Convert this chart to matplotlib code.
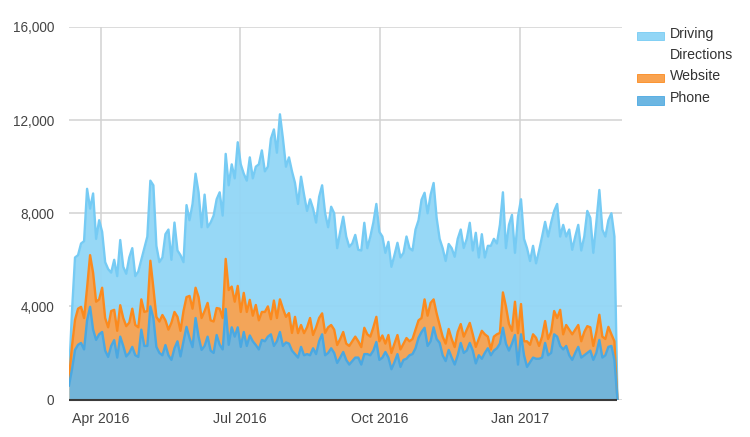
import matplotlib
matplotlib.use("Agg")
import matplotlib.pyplot as plt
import matplotlib.dates as mdates
from matplotlib.patches import Rectangle
import pandas as pd

plt.rcParams["font.family"] = ["Liberation Sans", "DejaVu Sans"]

# about one reading every second day
driving = [
    1000, 3800, 6100, 6200, 6700, 6800, 9050, 8200, 8850, 6900,
    7700, 7200, 5900, 5600, 5450, 6000, 5300, 6850, 5700, 5400,
    6100, 6500, 5300, 5500, 6000, 6500, 7000, 9400, 9200, 6600,
    5900, 6100, 7100, 7300, 6000, 7600, 6400, 6200, 5900, 8350,
    7700, 8400, 9700, 8900, 7400, 8800, 7400, 7600, 7900, 8600,
    8900, 7900, 10550, 9200, 10100, 9500, 11050, 10100, 9700, 9400,
    10400, 9500, 10000, 10100, 10700, 9800, 10000, 11200, 11600, 10600,
    12250, 11200, 10000, 10400, 9800, 9300, 8400, 9570, 8800, 8100,
    8600, 8200, 7600, 8700, 9200, 8000, 7400, 8280, 8000, 6500,
    7200, 7850, 7000, 6560, 6700, 7070, 6430, 6400, 7590, 6500,
    7000, 7600, 8400, 7200, 7000, 6300, 6770, 5700, 6200, 6730,
    6100, 6300, 7000, 6500, 6400, 7300, 7700, 8580, 8880, 8000,
    8790, 9300, 7800, 6900, 6500, 5950, 6680, 6500, 6130, 6900,
    7300, 6510, 6900, 7590, 6400, 7160, 6100, 7100, 6100, 6600,
    6600, 6900, 6700, 7500, 8900, 6500, 7500, 7930, 6300, 7850,
    8600, 6900, 6500, 5950, 6600, 5850, 6400, 7000, 7630, 7000,
    7600, 8100, 8400, 7000, 7500, 7000, 7300, 6430, 7000, 7500,
    6400, 7000, 8100, 7800, 6300, 7600, 9000, 7300, 7000, 7700,
    8000, 7000, 0]

website = [
    900, 2300, 3420, 3900, 3980, 3500, 4800, 6200, 5440, 4200,
    4300, 4800, 3500, 3100, 3800, 3850, 2950, 4050, 3500, 3150,
    3300, 3900, 3200, 3100, 4300, 3760, 3800, 5960, 4800, 3550,
    3350, 3630, 3400, 3000, 3300, 3760, 3550, 2950, 3800, 4400,
    4450, 3900, 4800, 4400, 3500, 3800, 4150, 3400, 3350, 3930,
    3900, 3500, 6040, 4700, 4850, 4200, 4880, 3760, 4580, 3760,
    4280, 3600, 4060, 3400, 3760, 3760, 4000, 3450, 4250, 3500,
    4300, 3900, 3550, 3710, 2860, 3550, 2850, 3200, 2850, 3100,
    3500, 2770, 3100, 3500, 3700, 2860, 3100, 3200, 3000, 2340,
    2600, 2900, 2400, 2300, 2500, 2700, 2500, 2250, 3080, 2800,
    2700, 3100, 3550, 2500, 2750, 2400, 2770, 2000, 2400, 2770,
    2150, 2400, 2640, 2500, 2600, 3000, 3400, 3500, 4300, 3600,
    4150, 4300, 3700, 3200, 2700, 2400, 3030, 2600, 2250, 2900,
    3240, 2700, 3000, 3290, 2800, 2260, 2600, 2950, 2800, 2700,
    2150, 2700, 2800, 2860, 4600, 4000, 3250, 2950, 4200, 2850,
    4100, 2500, 2500, 2350, 2800, 2650, 2300, 2700, 3370, 2600,
    2900, 3800, 3500, 3850, 2800, 3200, 3000, 2800, 3000, 3200,
    2500, 2900, 3150, 3100, 2300, 2900, 3640, 2700, 2600, 3120,
    2800, 2500, 0]

phone = [
    600, 1300, 2130, 2350, 2430, 2150, 3400, 3980, 3000, 2560,
    2800, 2900, 2100, 1830, 2300, 2550, 1800, 2700, 2300, 1850,
    2000, 2260, 1900, 1830, 3000, 2300, 2300, 4000, 3500, 2260,
    2000, 1900, 2340, 1900, 1700, 2200, 2500, 1850, 2500, 3120,
    2640, 2250, 3500, 2700, 2130, 2300, 2700, 2100, 2000, 2770,
    2350, 2150, 3890, 2350, 3100, 2700, 3100, 2260, 2900, 2300,
    2750, 2500, 2340, 2150, 2560, 2500, 2700, 2800, 2300, 2500,
    2900, 2300, 2450, 2400, 2100, 1950, 1800, 2260, 1900, 1950,
    1900, 2200, 1950, 2500, 2800, 1900, 2000, 2200, 2000, 1570,
    1800, 2040, 1700, 1500, 1650, 1800, 1800, 1500, 1950, 1950,
    1900, 2100, 2470, 1700, 1800, 2040, 1800, 1300, 1600, 1950,
    1400, 1700, 1750, 1900, 1950, 2200, 2650, 2900, 3080, 2300,
    2500, 3100, 2600, 2430, 1900, 1650, 2130, 1800, 1500, 1900,
    2430, 2000, 2100, 2430, 2100, 1550, 1900, 1750, 2000, 2200,
    1900, 2100, 2200, 2400, 3080, 2400, 2100, 2400, 2770, 1500,
    2800, 1900, 1400, 1600, 1800, 1750, 1750, 1800, 2430, 1900,
    2000, 2800, 2700, 2300, 2150, 2300, 1900, 1700, 2000, 2260,
    1800, 1900, 2000, 2100, 1700, 2000, 2560, 1800, 1900, 2260,
    2300, 1700, 0]

df = pd.DataFrame({"driving": driving, "website": website, "phone": phone},
                  index=pd.date_range("2016-03-11", "2017-03-06", periods=len(driving)))

SERIES = [
    ("driving", "Driving\nDirections", "#92d6f6", "#76cbf4"),
    ("website", "Website", "#f9a350", "#fb8a1e"),
    ("phone", "Phone", "#6cb6e2", "#4aa8e2"),
]
GRID = "#d2d2d2"
TEXT = "#444444"
FONT_SIZE = 10.2
W, H = 750, 437

fig = plt.figure(figsize=(7.5, 4.37), dpi=100)
ax = fig.add_axes([69 / W, 1 - 399.5 / H, (622 - 69) / W, (399.5 - 27) / H])

for col, label, fill, line in SERIES:
    ax.fill_between(df.index, 0, df[col], color=fill, alpha=0.95, lw=0, zorder=3)
    ax.plot(df.index, df[col], color=line, lw=1.7, zorder=4, solid_joinstyle="round")

ax.set_xlim(pd.Timestamp("2016-03-11"), pd.Timestamp("2016-03-11") + pd.Timedelta(days=363))
ax.set_ylim(0, 16000)
ax.set_yticks([0, 4000, 8000, 12000, 16000])
ax.set_yticklabels(["0", "4,000", "8,000", "12,000", "16,000"])
ax.set_xticks(pd.to_datetime(["2016-04-01", "2016-07-01", "2016-10-01", "2017-01-01"]))
ax.xaxis.set_major_formatter(mdates.DateFormatter("%b %Y"))
ax.tick_params(axis="both", length=0, labelsize=FONT_SIZE, labelcolor=TEXT)
ax.tick_params(axis="x", pad=9)
ax.tick_params(axis="y", pad=10.5, labelsize=9.8)
ax.grid(True, color=GRID, lw=1.1, zorder=1)
ax.set_axisbelow(True)
for spine in ax.spines.values():
    spine.set_visible(False)

# dark baseline only runs as far as the data
ax.hlines(0, df.index[0], df.index[-1], color="#3a3a3a", lw=1.5, zorder=5, clip_on=False)

# legend, first text line sits level with the swatch
for (col, label, fill, line), y in zip(SERIES, [36, 78, 100.5]):
    fig.add_artist(Rectangle((637 / W, 1 - (y + 4) / H), 27 / W, 8 / H, transform=fig.transFigure,
                             facecolor=fill, edgecolor=line, lw=0.6))
    fig.text(670 / W, 1 - (y - 9) / H, label, fontsize=FONT_SIZE, color="#333333",
             va="top", ha="left", linespacing=1.6)

fig.savefig("out.png", dpi=100)
